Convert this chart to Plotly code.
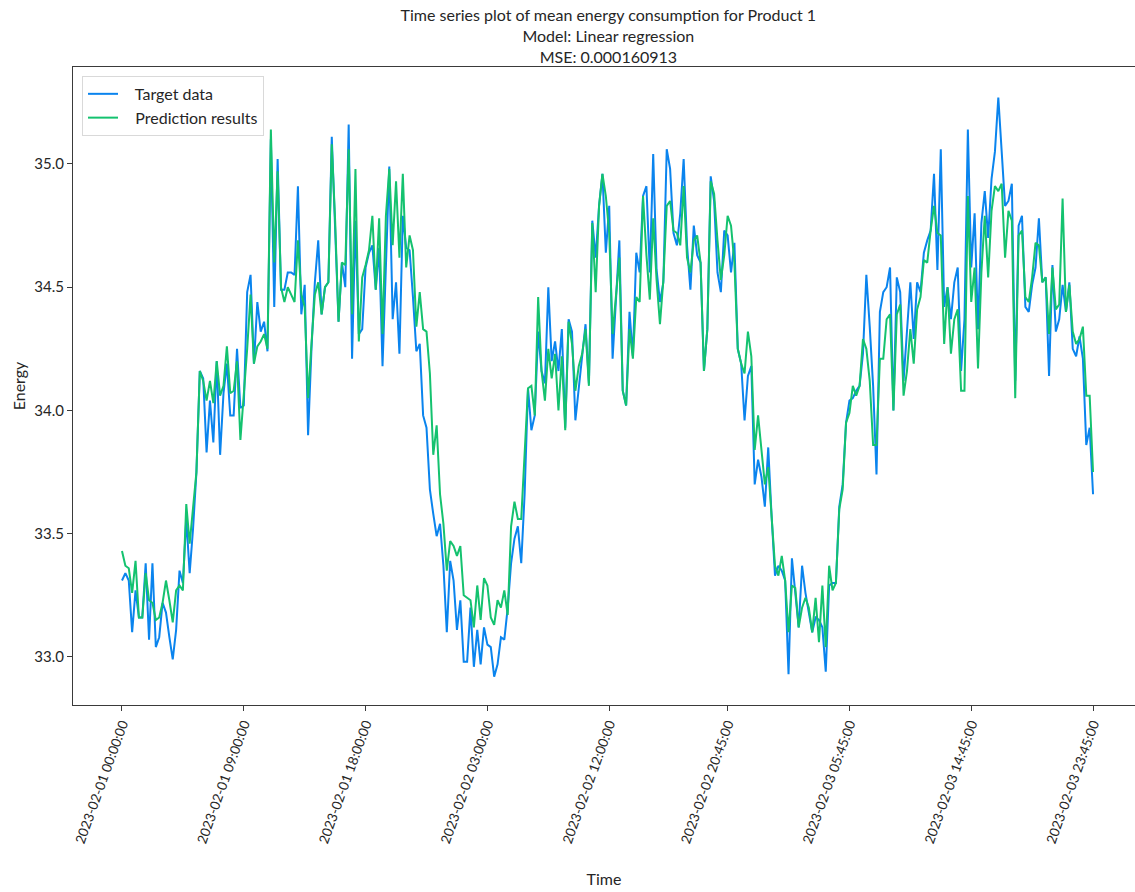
import plotly.graph_objects as go

target = [
    33.31, 33.34, 33.31, 33.10, 33.27, 33.16, 33.16, 33.38, 33.07, 33.38,
    33.04, 33.08, 33.22, 33.18, 33.08, 32.99, 33.11, 33.35, 33.30, 33.56,
    33.34, 33.52, 33.75, 34.16, 34.13, 33.83, 34.04, 33.87, 34.20, 33.82,
    34.07, 34.19, 33.98, 33.98, 34.25, 34.01, 34.02, 34.48, 34.55, 34.19,
    34.44, 34.32, 34.36, 34.24, 35.10, 34.42, 35.02, 34.49, 34.49, 34.56,
    34.56, 34.55, 34.91, 34.39, 34.51, 33.90, 34.25, 34.52, 34.69, 34.39,
    34.50, 34.52, 35.11, 34.75, 34.36, 34.60, 34.50, 35.16, 34.21, 34.77,
    34.31, 34.33, 34.58, 34.64, 34.67, 34.49, 34.66, 34.18, 34.62, 34.99,
    34.37, 34.52, 34.23, 34.79, 34.66, 34.65, 34.46, 34.24, 34.27, 33.98,
    33.93, 33.68, 33.58, 33.49, 33.54, 33.37, 33.10, 33.39, 33.31, 33.11,
    33.23, 32.98, 32.98, 33.20, 32.96, 33.11, 32.97, 33.12, 33.05, 33.04,
    32.92, 32.97, 33.08, 33.07, 33.20, 33.38, 33.48, 33.53, 33.38, 33.66,
    34.09, 33.92, 33.98, 34.32, 34.16, 34.11, 34.50, 34.20, 34.28, 34.16,
    34.33, 33.93, 34.37, 34.32, 33.96, 34.08, 34.22, 34.35, 34.11, 34.77,
    34.62, 34.83, 34.96, 34.64, 34.83, 34.21, 34.45, 34.69, 34.08, 34.02,
    34.40, 34.22, 34.64, 34.56, 34.87, 34.91, 34.56, 35.04, 34.57, 34.44,
    34.52, 35.06, 34.98, 34.72, 34.67, 34.80, 35.02, 34.67, 34.49, 34.75,
    34.63, 34.60, 34.16, 34.33, 34.95, 34.85, 34.56, 34.48, 34.73, 34.71,
    34.56, 34.68, 34.25, 34.19, 33.96, 34.14, 34.18, 33.70, 33.80, 33.73,
    33.61, 33.85, 33.57, 33.33, 33.37, 33.35, 33.31, 32.93, 33.40, 33.27,
    33.12, 33.37, 33.26, 33.18, 33.10, 33.16, 33.15, 33.12, 32.94, 33.29,
    33.30, 33.30, 33.61, 33.70, 33.95, 34.04, 34.05, 34.08, 34.10, 34.23,
    34.55, 34.34, 34.10, 33.74, 34.40, 34.48, 34.50, 34.58, 34.00, 34.54,
    34.48, 34.12, 34.34, 34.52, 34.29, 34.52, 34.48, 34.64, 34.69, 34.73,
    34.96, 34.57, 35.06, 34.42, 34.50, 34.37, 34.52, 34.58, 34.16, 34.37,
    35.14, 34.58, 34.80, 34.33, 34.76, 34.89, 34.70, 34.94, 35.05, 35.27,
    35.05, 34.83, 34.85, 34.92, 34.12, 34.75, 34.79, 34.42, 34.40, 34.51,
    34.58, 34.78, 34.52, 34.54, 34.14, 34.59, 34.32, 34.37, 34.51, 34.40,
    34.52, 34.25, 34.22, 34.30, 34.21, 33.86, 33.93, 33.66,
]

prediction = [
    33.43, 33.37, 33.36, 33.26, 33.39, 33.16, 33.16, 33.34, 33.23, 33.22,
    33.15, 33.16, 33.22, 33.31, 33.23, 33.14, 33.27, 33.29, 33.27, 33.62,
    33.46, 33.62, 33.75, 34.16, 34.12, 34.04, 34.12, 34.03, 34.20, 34.06,
    34.10, 34.26, 34.07, 34.08, 34.20, 33.88, 34.05, 34.25, 34.47, 34.19,
    34.26, 34.28, 34.31, 34.25, 35.14, 34.60, 34.97, 34.50, 34.44, 34.50,
    34.47, 34.44, 34.69, 34.47, 34.42, 34.05, 34.27, 34.47, 34.52, 34.39,
    34.50, 34.52, 35.08, 34.77, 34.36, 34.60, 34.59, 35.06, 34.39, 34.98,
    34.28, 34.54, 34.59, 34.65, 34.79, 34.49, 34.78, 34.31, 34.79, 34.98,
    34.67, 34.93, 34.62, 34.96, 34.58, 34.71, 34.65, 34.34, 34.48, 34.33,
    34.32, 34.15, 33.82, 33.94, 33.66, 33.54, 33.35, 33.47, 33.45, 33.41,
    33.45, 33.25, 33.24, 33.23, 33.12, 33.29, 33.15, 33.32, 33.29, 33.16,
    33.13, 33.23, 33.20, 33.27, 33.17, 33.53, 33.63, 33.56, 33.56, 33.82,
    34.09, 34.10, 33.98, 34.46, 34.16, 34.04, 34.25, 34.13, 34.23, 34.00,
    34.22, 33.92, 34.36, 34.27, 34.08, 34.18, 34.23, 34.33, 34.10, 34.76,
    34.48, 34.83, 34.96, 34.87, 34.72, 34.31, 34.45, 34.62, 34.08, 34.02,
    34.33, 34.21, 34.46, 34.44, 34.87, 34.63, 34.45, 34.78, 34.53, 34.35,
    34.53, 34.83, 34.85, 34.73, 34.72, 34.67, 34.91, 34.62, 34.56, 34.69,
    34.71, 34.60, 34.16, 34.33, 34.93, 34.88, 34.69, 34.53, 34.63, 34.79,
    34.75, 34.60, 34.25, 34.19, 34.15, 34.32, 34.22, 33.84, 33.98, 33.85,
    33.70, 33.77, 33.56, 33.37, 33.33, 33.41, 33.31, 33.10, 33.29, 33.28,
    33.12, 33.20, 33.24, 33.20, 33.10, 33.24, 33.06, 33.29, 33.04, 33.37,
    33.27, 33.30, 33.60, 33.68, 33.95, 33.99, 34.10, 34.06, 34.10, 34.29,
    34.25, 34.12, 33.86, 33.86, 34.21, 34.21, 34.37, 34.39, 34.00, 34.39,
    34.43, 34.06, 34.16, 34.33, 34.19, 34.41, 34.46, 34.61, 34.60, 34.73,
    34.83, 34.72, 34.71, 34.27, 34.50, 34.23, 34.37, 34.41, 34.08, 34.08,
    34.87, 34.44, 34.58, 34.17, 34.56, 34.79, 34.54, 34.81, 34.91, 34.89,
    34.92, 34.62, 34.81, 34.77, 34.05, 34.71, 34.73, 34.46, 34.44, 34.54,
    34.68, 34.67, 34.52, 34.54, 34.31, 34.58, 34.41, 34.43, 34.86, 34.40,
    34.51, 34.32, 34.27, 34.29, 34.34, 34.06, 34.06, 33.75,
]

tick_positions = [0, 36, 72, 108, 144, 179, 215, 251, 287]
tick_labels = [
    "2023-02-01 00:00:00", "2023-02-01 09:00:00", "2023-02-01 18:00:00",
    "2023-02-02 03:00:00", "2023-02-02 12:00:00", "2023-02-02 20:45:00",
    "2023-02-03 05:45:00", "2023-02-03 14:45:00", "2023-02-03 23:45:00",
]
y_ticks = [33.0, 33.5, 34.0, 34.5, 35.0]

x_idx = list(range(len(target)))
FONT = "Lato"
TXT = "#262626"
AX = "#3a3a3a"
PAD = "\u00a0\u00a0\u00a0"

fig = go.Figure()
fig.add_trace(go.Scatter(x=x_idx, y=target, mode="lines", name=PAD + "Target data",
                         line=dict(color="#0A84EE", width=2)))
fig.add_trace(go.Scatter(x=x_idx, y=prediction, mode="lines", name=PAD + "Prediction results",
                         line=dict(color="#14C26F", width=2)))

fig.update_layout(
    width=1135, height=892,
    margin=dict(l=73, r=0, t=67, b=187),
    paper_bgcolor="white", plot_bgcolor="white",
    font=dict(family=FONT, size=15, color=TXT),
    title=dict(
        text="Time series plot of mean energy consumption for Product 1<br>Model: Linear regression<br>MSE: 0.000160913",
        x=0.536, xanchor="center", y=1 - 21 / 892, yref="container", yanchor="top",
        font=dict(family=FONT, size=16, color=TXT),
    ),
    showlegend=True,
    legend=dict(
        x=0.0085, y=0.986, xanchor="left", yanchor="top",
        bgcolor="white", bordercolor="#d9d9d9", borderwidth=1,
        font=dict(family=FONT, size=16, color=TXT),
        itemwidth=30,
    ),
    xaxis=dict(
        range=[-14.48, 299.4],
        tickmode="array", tickvals=tick_positions, ticktext=tick_labels,
        tickangle=-70, ticks="outside", ticklen=5, tickcolor=AX,
        showline=True, linecolor=AX, linewidth=1, mirror=True,
        showgrid=False, zeroline=False,
        tickfont=dict(family=FONT, size=13.5, color=TXT),
        title=dict(text="Time", font=dict(family=FONT, size=16, color=TXT), standoff=28),
        automargin=False,
    ),
    yaxis=dict(
        range=[32.805, 35.3935],
        tickmode="array", tickvals=y_ticks, ticktext=[f"{v:.1f}" for v in y_ticks],
        ticks="outside", ticklen=5, tickcolor=AX,
        showline=True, linecolor=AX, linewidth=1, mirror=True,
        showgrid=False, zeroline=False,
        tickfont=dict(family=FONT, size=15, color=TXT),
        title=dict(text="Energy", font=dict(family=FONT, size=16, color=TXT), standoff=4),
        automargin=False,
    ),
)

fig.write_html("out.html")
